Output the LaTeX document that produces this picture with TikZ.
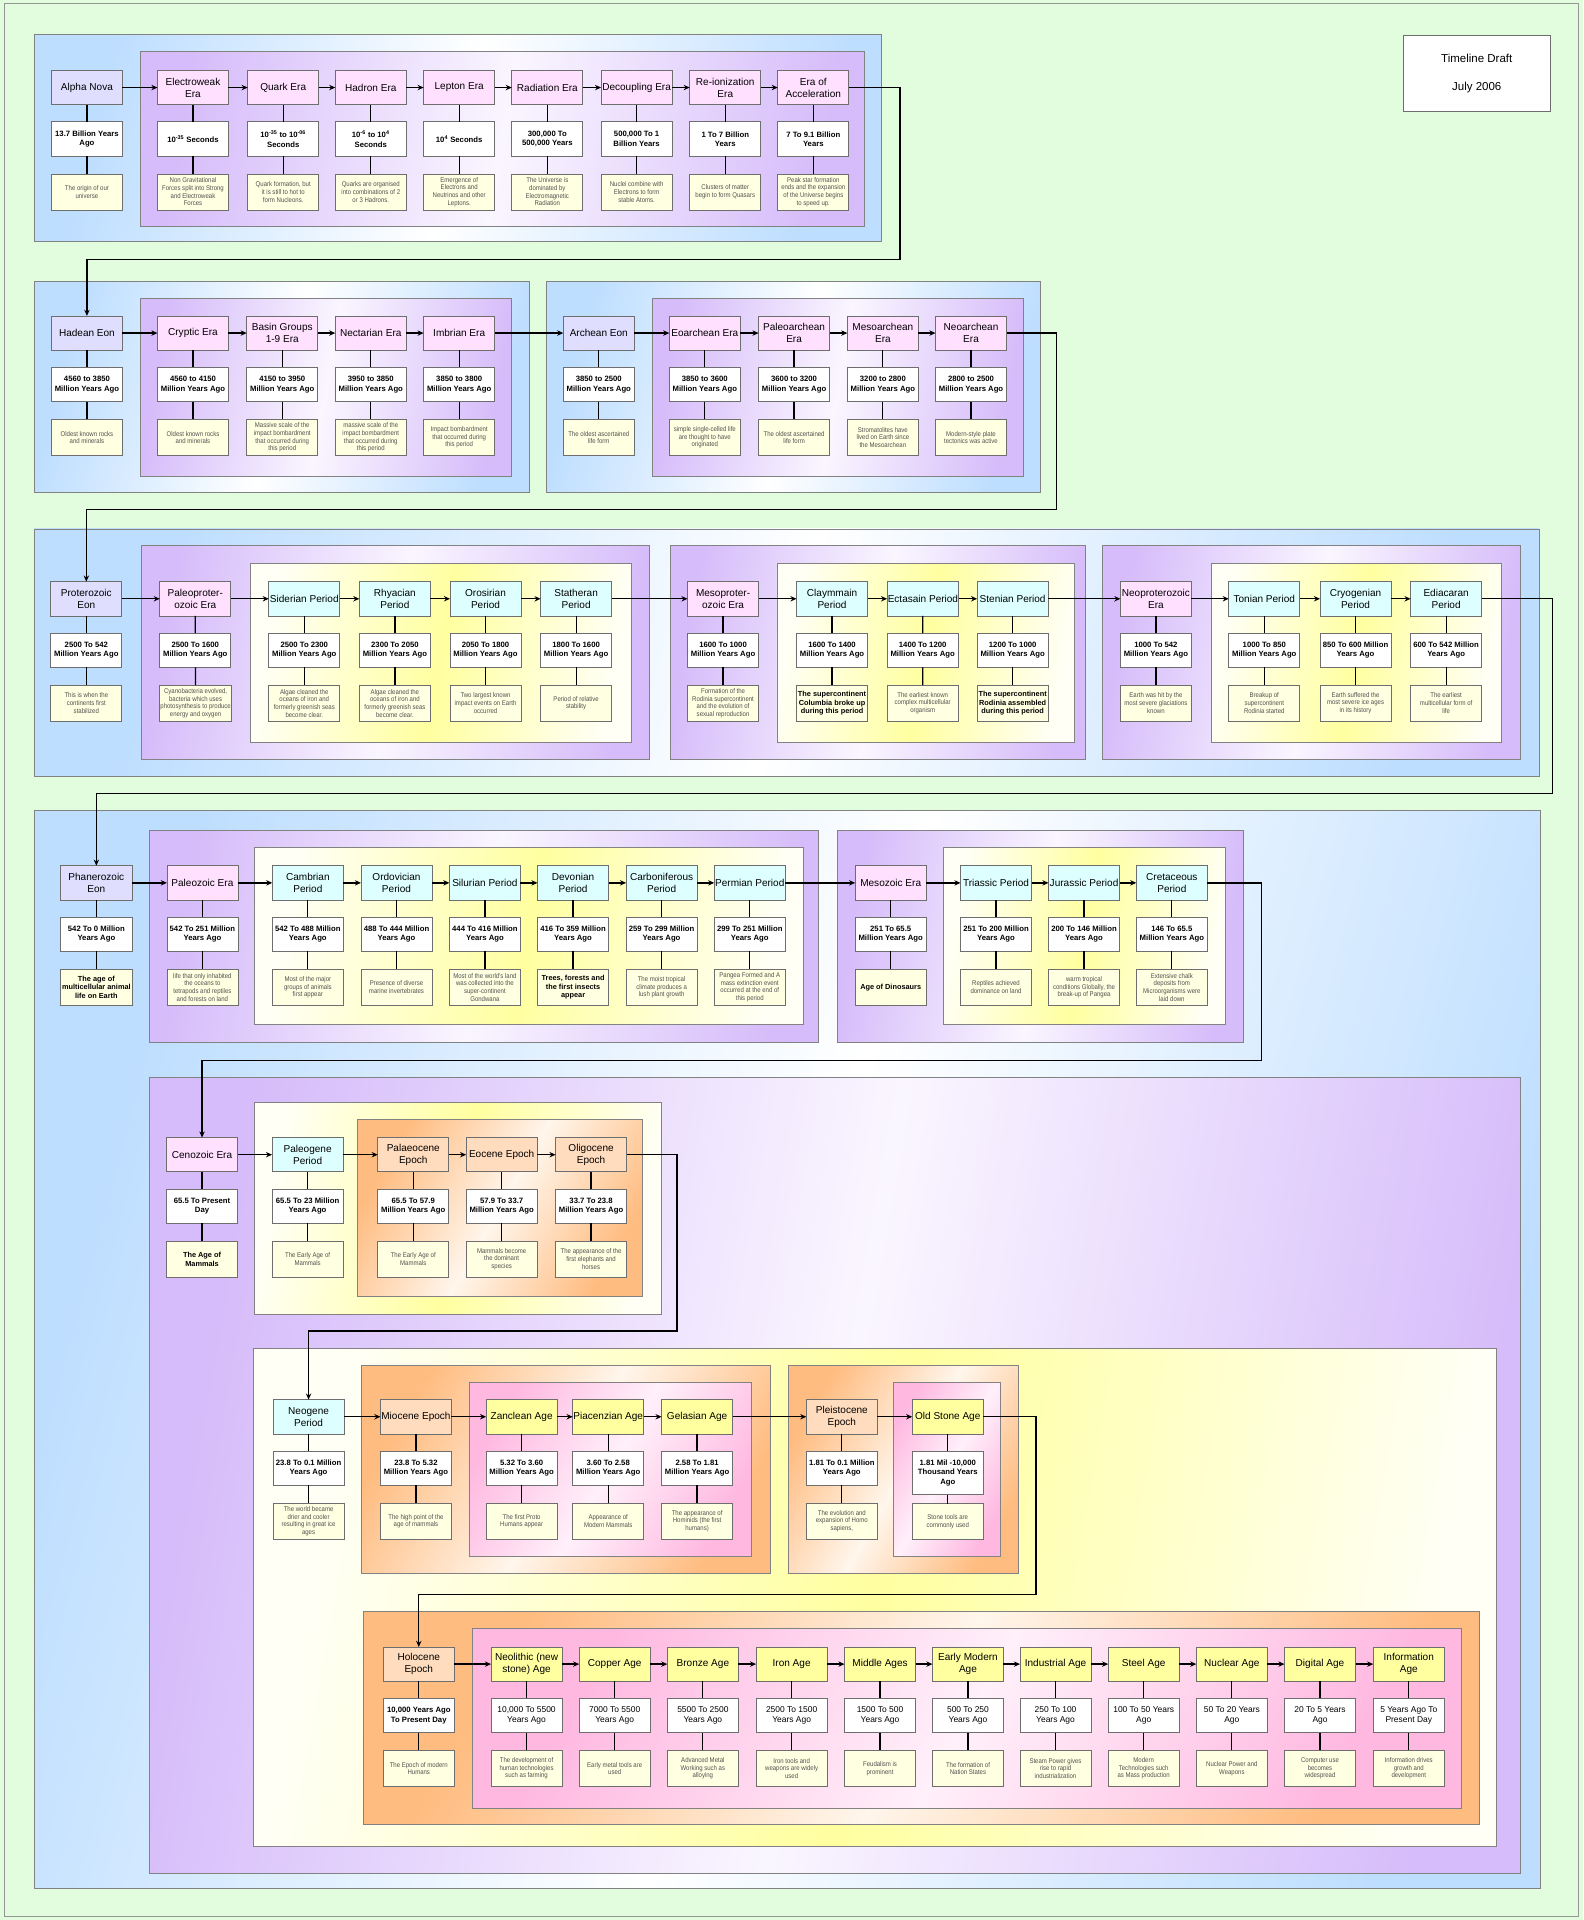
\documentclass[tikz,border=0pt]{standalone}
\usepackage{fontspec}
\setmainfont{Liberation Sans}
\newfontfamily\narrowfont{Liberation Sans}[FakeStretch=0.88]
\usetikzlibrary{arrows.meta}
\definecolor{bggreen}{RGB}{226,252,222}
\definecolor{pageB}{RGB}{150,150,150}
\definecolor{frameB}{RGB}{130,130,130}
\definecolor{nodeB}{RGB}{110,110,110}
\definecolor{blueC}{RGB}{190,222,255}
\definecolor{purpC}{RGB}{214,188,250}
\definecolor{purpM}{RGB}{250,246,255}
\definecolor{yelC}{RGB}{255,255,160}
\definecolor{yelE}{RGB}{255,255,246}
\definecolor{oraC}{RGB}{255,188,128}
\definecolor{oraM}{RGB}{255,246,236}
\definecolor{pinkC}{RGB}{255,185,225}
\definecolor{pinkM}{RGB}{255,240,250}
\definecolor{eonC}{RGB}{224,222,255}
\definecolor{eraC}{RGB}{255,224,255}
\definecolor{perC}{RGB}{222,255,255}
\definecolor{epoC}{RGB}{255,220,190}
\definecolor{ageC}{RGB}{255,255,160}
\definecolor{descC}{RGB}{255,255,225}
\definecolor{descT}{RGB}{80,80,80}
\newcommand\hdrfont{\fontsize{8.2}{9.6}\selectfont}
\newcommand\datefont{\fontsize{6.3}{7.6}\selectfont\bfseries}
\newcommand\dateregfont{\fontsize{6.9}{8.2}\selectfont}
\newcommand\descfont{\narrowfont\fontsize{5.6}{6.3}\selectfont}
\newcommand\dboldfont{\fontsize{6}{7.2}\selectfont\bfseries}
\tikzset{
  hdr/.style={draw=nodeB, line width=0.6pt, minimum width=58pt, minimum height=28pt,
    inner sep=0.5pt, outer sep=0pt, align=center, anchor=north west, font=\hdrfont, text=black},
  kEon/.style={fill=eonC}, kEra/.style={fill=eraC}, kPer/.style={fill=perC},
  kEpo/.style={fill=epoC}, kAge/.style={fill=ageC},
  datebox/.style={hdr, fill=white, font=\datefont},
  descbox/.style={hdr, minimum height=29.5pt, fill=descC, font=\descfont, text=descT},
  dbold/.style={font=\dboldfont, text=black},
  vlink/.style={line width=1pt, black},
  harrow/.style={line width=1.1pt, black, -{Stealth[length=5pt,width=4.4pt]}},
  fbase/.style={draw=frameB, line width=0.6pt},
  fblue/.style={fbase, left color=blueC, right color=blueC, middle color=white, shading angle=75},
  fpurple/.style={fbase, left color=purpC, right color=purpC, middle color=purpM, shading angle=80},
  fyellow/.style={fbase, left color=yelE, right color=yelE, middle color=yelC, shading angle=80},
  forange/.style={fbase, left color=oraC, right color=oraC, middle color=oraM, shading angle=60},
  fpink/.style={fbase, left color=pinkC, right color=pinkC, middle color=pinkM, shading angle=60},
}
% column: [desc opts]{name}{x}{y}{kind}{header}{date}{desc}
\newcommand\tcol[8][]{%
  \node[hdr,#5] (#2-h) at (#3,#4) {#6};
  \node[datebox] (#2-d) at (#3,#4+42) {#7};
  \node[descbox,#1] (#2-s) at (#3,#4+84.5) {#8};
  \draw[vlink] (#2-h) -- (#2-d) (#2-d) -- (#2-s);
}
\newcommand\frm[5]{\path[#1] (#2,#3) rectangle (#4,#5);}
\begin{document}
\begin{tikzpicture}[x=1pt,y=-1pt]
\useasboundingbox (0,0) rectangle (1293,1568);
\fill[bggreen] (0,0) rectangle (1293,1568);
\draw[pageB, line width=0.8pt] (4,3) rectangle (1289,1565);

% ---------- frames ----------
\frm{fblue}{28}{28}{720}{197}
\frm{fpurple}{114.5}{42}{705.5}{184.5}
\frm{fblue}{28}{230}{432}{402}
\frm{fpurple}{115}{243.5}{418}{389}
\frm{fblue}{446}{230}{850}{402}
\frm{fpurple}{533}{243.5}{836}{389}
\frm{fblue}{28}{432}{1257}{634}
\frm{fpurple}{115.5}{445.5}{530.5}{620}
\frm{fyellow}{204.5}{460}{516}{606}
\frm{fpurple}{547.5}{445.5}{886}{620}
\frm{fyellow}{634.5}{460}{877}{606}
\frm{fpurple}{900}{445.5}{1242}{620}
\frm{fyellow}{989.5}{460}{1226}{606}
\frm{fblue}{28}{662}{1258}{1542}
\frm{fpurple}{122}{678}{668.5}{851}
\frm{fyellow}{208}{692}{656}{836.5}
\frm{fpurple}{684}{678}{1015.5}{851}
\frm{fyellow}{770.5}{692}{1001}{836.5}
\frm{fpurple}{122}{880}{1242}{1530}
\frm{fyellow}{208}{900}{540}{1073}
\frm{forange}{292}{914}{525}{1058.5}
\frm{fyellow}{207}{1101}{1222}{1508}
\frm{forange}{295}{1115}{629}{1285}
\frm{fpink}{383}{1129}{614}{1271}
\frm{forange}{644}{1115}{832}{1285}
\frm{fpink}{729.5}{1129}{817}{1271}
\frm{forange}{297}{1316}{1208}{1490}
\frm{fpink}{385.5}{1330}{1193.5}{1476.5}

% ---------- title ----------
\node[draw=nodeB, line width=0.6pt, fill=white, minimum width=120pt, minimum height=62pt,
  align=center, font=\fontsize{9.4}{10.5}\selectfont] (title) at (1206,60) {Timeline Draft\\[13pt]July 2006};

% ---------- row 1 ----------
\tcol{alpha}{42}{57.5}{kEon}{Alpha Nova}{13.7 Billion Years\\Ago}{The origin of our\\universe}
\tcol{ew}{128.6}{57.5}{kEra}{Electroweak\\Era}{10\textsuperscript{-35} Seconds}{Non Gravitational\\Forces split into Strong\\and Electroweak\\Forces}
\tcol{quark}{202.3}{57.5}{kEra}{Quark Era}{10\textsuperscript{-35} to 10\textsuperscript{-06}\\Seconds}{Quark formation, but\\it is still to hot to\\form Nucleons.}
\tcol{hadron}{273.8}{57.5}{kEra}{Hadron Era}{10\textsuperscript{-6} to 10\textsuperscript{4}\\Seconds}{Quarks are organised\\into combinations of 2\\or 3 Hadrons.}
\tcol{lepton}{346}{57.5}{kEra}{Lepton Era}{10\textsuperscript{4} Seconds}{Emergence of\\Electrons and\\Neutrinos and other\\Leptons.}
\tcol{radiation}{418}{57.5}{kEra}{Radiation Era}{300,000 To\\500,000 Years}{The Universe is\\dominated by\\Electromagnetic\\Radiation}
\tcol{decoupling}{490.9}{57.5}{kEra}{Decoupling Era}{500,000 To 1\\Billion Years}{Nuclei combine with\\Electrons to form\\stable Atoms.}
\tcol{reion}{563.3}{57.5}{kEra}{Re-ionization\\Era}{1 To 7 Billion\\Years}{Clusters of matter\\begin to form Quasars}
\tcol{accel}{635.2}{57.5}{kEra}{Era of\\Acceleration}{7 To 9.1 Billion\\Years}{Peak star formation\\ends and the expansion\\of the Universe begins\\to speed up.}

% ---------- row 2 ----------
\tcol{hadean}{42}{258}{kEon}{Hadean Eon}{4560 to 3850\\Million Years Ago}{Oldest known rocks\\and minerals}
\tcol{cryptic}{128.6}{258}{kEra}{Cryptic Era}{4560 to 4150\\Million Years Ago}{Oldest known rocks\\and minerals}
\tcol{basin}{201.5}{258}{kEra}{Basin Groups\\1-9 Era}{4150 to 3950\\Million Years Ago}{Massive scale of the\\impact bombardment\\that occurred during\\this period}
\tcol{nectarian}{273.8}{258}{kEra}{Nectarian Era}{3950 to 3850\\Million Years Ago}{massive scale of the\\impact bombardment\\that occurred during\\this period}
\tcol{imbrian}{346}{258}{kEra}{Imbrian Era}{3850 to 3800\\Million Years Ago}{Impact bombardment\\that occurred during\\this period}
\tcol{archean}{460}{258}{kEon}{Archean Eon}{3850 to 2500\\Million Years Ago}{The oldest ascertained\\life form}
\tcol{eoarchean}{546.6}{258}{kEra}{Eoarchean Era}{3850 to 3600\\Million Years Ago}{simple single-celled life\\are thought to have\\originated}
\tcol{paleoarchean}{619.5}{258}{kEra}{Paleoarchean\\Era}{3600 to 3200\\Million Years Ago}{The oldest ascertained\\life form}
\tcol{mesoarchean}{692}{258}{kEra}{Mesoarchean\\Era}{3200 to 2800\\Million Years Ago}{Stromatolites have\\lived on Earth since\\the Mesoarchean}
\tcol{neoarchean}{764}{258}{kEra}{Neoarchean\\Era}{2800 to 2500\\Million Years Ago}{Modern-style plate\\tectonics was active}

% ---------- row 3 ----------
\tcol{proterozoic}{41.5}{475}{kEon}{Proterozoic\\Eon}{2500 To 542\\Million Years Ago}{This is when the\\continents first\\stabilized}
\tcol{paleoproter}{130.5}{475}{kEra}{Paleoproter-\\ozoic Era}{2500 To 1600\\Million Years Ago}{Cyanobacteria evolved,\\bacteria which uses\\photosynthesis to produce\\energy and oxygen}
\tcol{siderian}{219.5}{475}{kPer}{Siderian Period}{2500 To 2300\\Million Years Ago}{Algae cleaned the\\oceans of iron and\\formerly greenish seas\\become clear.}
\tcol{rhyacian}{293.5}{475}{kPer}{Rhyacian\\Period}{2300 To 2050\\Million Years Ago}{Algae cleaned the\\oceans of iron and\\formerly greenish seas\\become clear.}
\tcol{orosirian}{367.5}{475}{kPer}{Orosirian\\Period}{2050 To 1800\\Million Years Ago}{Two largest known\\impact events on Earth\\occurred}
\tcol{statheran}{441.5}{475}{kPer}{Statheran\\Period}{1800 To 1600\\Million Years Ago}{Period of relative\\stability}
\tcol{mesoproter}{561.5}{475}{kEra}{Mesoproter-\\ozoic Era}{1600 To 1000\\Million Years Ago}{Formation of the\\Rodinia supercontinent\\and the evolution of\\sexual reproduction}
\tcol[dbold]{claymmain}{650.5}{475}{kPer}{Claymmain\\Period}{1600 To 1400\\Million Years Ago}{The supercontinent\\Columbia broke up\\during this period}
\tcol{ectasain}{724.5}{475}{kPer}{Ectasain Period}{1400 To 1200\\Million Years Ago}{The earliest known\\complex multicellular\\organism}
\tcol[dbold]{stenian}{798}{475}{kPer}{Stenian Period}{1200 To 1000\\Million Years Ago}{The supercontinent\\Rodinia assembled\\during this period}
\tcol{neoproterozoic}{915}{475}{kEra}{Neoproterozoic\\Era}{1000 To 542\\Million Years Ago}{Earth was hit by the\\most severe glaciations\\known}
\tcol{tonian}{1003.5}{475}{kPer}{Tonian Period}{1000 To 850\\Million Years Ago}{Breakup of\\supercontinent\\Rodinia started}
\tcol{cryogenian}{1078}{475}{kPer}{Cryogenian\\Period}{850 To 600 Million\\Years Ago}{Earth suffered the\\most severe ice ages\\in its history}
\tcol{ediacaran}{1152}{475}{kPer}{Ediacaran\\Period}{600 To 542 Million\\Years Ago}{The earliest\\multicellular form of\\life}

% ---------- row 4 ----------
\tcol[dbold]{phanerozoic}{49.7}{707}{kEon}{Phanerozoic\\Eon}{542 To 0 Million\\Years Ago}{The age of\\multicellular animal\\life on Earth}
\tcol{paleozoic}{136.3}{707}{kEra}{Paleozoic Era}{542 To 251 Million\\Years Ago}{life that only inhabited\\the oceans to\\tetrapods and reptiles\\and forests on land}
\tcol{cambrian}{222.4}{707}{kPer}{Cambrian\\Period}{542 To 488 Million\\Years Ago}{Most of the major\\groups of animals\\first appear}
\tcol{ordovician}{294.8}{707}{kPer}{Ordovician\\Period}{488 To 444 Million\\Years Ago}{Presence of diverse\\marine invertebrates}
\tcol{silurian}{367}{707}{kPer}{Silurian Period}{444 To 416 Million\\Years Ago}{Most of the world's land\\was collected into the\\super-continent\\Gondwana}
\tcol[dbold]{devonian}{439}{707}{kPer}{Devonian\\Period}{416 To 359 Million\\Years Ago}{Trees, forests and\\the first insects\\appear}
\tcol{carboniferous}{511.3}{707}{kPer}{Carboniferous\\Period}{259 To 299 Million\\Years Ago}{The moist tropical\\climate produces a\\lush plant growth}
\tcol{permian}{583.3}{707}{kPer}{Permian Period}{299 To 251 Million\\Years Ago}{Pangea Formed and A\\mass extinction event\\occurred at the end of\\this period}
\tcol[dbold]{mesozoic}{698.4}{707}{kEra}{Mesozoic Era}{251 To 65.5\\Million Years Ago}{Age of Dinosaurs}
\tcol{triassic}{784.4}{707}{kPer}{Triassic Period}{251 To 200 Million\\Years Ago}{Reptiles achieved\\dominance on land}
\tcol{jurassic}{856.3}{707}{kPer}{Jurassic Period}{200 To 146 Million\\Years Ago}{warm tropical\\conditions Globally, the\\break-up of Pangea}
\tcol{cretaceous}{928}{707}{kPer}{Cretaceous\\Period}{146 To 65.5\\Million Years Ago}{Extensive chalk\\deposits from\\Microorganisms were\\laid down}

% ---------- Cenozoic ----------
\tcol[dbold]{cenozoic}{136}{929}{kEra}{Cenozoic Era}{65.5 To Present\\Day}{The Age of\\Mammals}
\tcol{paleogene}{222.2}{929}{kPer}{Paleogene\\Period}{65.5 To 23 Million\\Years Ago}{The Early Age of\\Mammals}
\tcol{palaeocene}{308.5}{929}{kEpo}{Palaeocene\\Epoch}{65.5 To 57.9\\Million Years Ago}{The Early Age of\\Mammals}
\tcol{eocene}{380.7}{929}{kEpo}{Eocene Epoch}{57.9 To 33.7\\Million Years Ago}{Mammals become\\the dominant\\species}
\tcol{oligocene}{453.7}{929}{kEpo}{Oligocene\\Epoch}{33.7 To 23.8\\Million Years Ago}{The appearance of the\\first elephants and\\horses}

% ---------- Neogene ----------
\tcol{neogene}{223}{1143}{kPer}{Neogene\\Period}{23.8 To 0.1 Million\\Years Ago}{The world became\\drier and cooler\\resulting in great ice\\ages}
\tcol{miocene}{310.7}{1143}{kEpo}{Miocene Epoch}{23.8 To 5.32\\Million Years Ago}{The high point of the\\age of mammals}
\tcol{zanclean}{397}{1143}{kAge}{Zanclean Age}{5.32 To 3.60\\Million Years Ago}{The first Proto\\Humans appear}
\tcol{piacenzian}{467.7}{1143}{kAge}{Piacenzian Age}{3.60 To 2.58\\Million Years Ago}{Appearance of\\Modern Mammals}
\tcol{gelasian}{540.3}{1143}{kAge}{Gelasian Age}{2.58 To 1.81\\Million Years Ago}{The appearance of\\Hominids (the first\\humans)}
\tcol{pleistocene}{658.5}{1143}{kEpo}{Pleistocene\\Epoch}{1.81 To 0.1 Million\\Years Ago}{The evolution and\\expansion of Homo\\sapiens,}
\node[hdr,kAge] (oldstone-h) at (745,1143) {Old Stone Age};
\node[datebox, minimum height=35.5pt] (oldstone-d) at (745,1185) {1.81 Mil -10,000\\Thousand Years\\Ago};
\node[descbox] (oldstone-s) at (745,1228) {Stone tools are\\commonly used};
\draw[vlink] (oldstone-h) -- (oldstone-d) (oldstone-d) -- (oldstone-s);

% ---------- Holocene ----------
\tcol{holocene}{313}{1345}{kEpo}{Holocene\\Epoch}{10,000 Years Ago\\To Present Day}{The Epoch of modern\\Humans}
\begin{scope}[datebox/.append style={font=\dateregfont}]
\tcol{neolithic}{401}{1345}{kAge}{Neolithic (new\\stone) Age}{10,000 To 5500\\Years Ago}{The development of\\human technologies\\such as farming}
\tcol{copper}{473}{1345}{kAge}{Copper Age}{7000 To 5500\\Years Ago}{Early metal tools are\\used}
\tcol{bronze}{545}{1345}{kAge}{Bronze Age}{5500 To 2500\\Years Ago}{Advanced Metal\\Working such as\\alloying}
\tcol{iron}{617.5}{1345}{kAge}{Iron Age}{2500 To 1500\\Years Ago}{Iron tools and\\weapons are widely\\used}
\tcol{middle}{689.7}{1345}{kAge}{Middle Ages}{1500 To 500\\Years Ago}{Feudalism is\\prominent}
\tcol{earlymodern}{761.5}{1345}{kAge}{Early Modern\\Age}{500 To 250\\Years Ago}{The formation of\\Nation States}
\tcol{industrial}{833}{1345}{kAge}{Industrial Age}{250 To 100\\Years Ago}{Steam Power gives\\rise to rapid\\industrialization}
\tcol{steel}{905}{1345}{kAge}{Steel Age}{100 To 50 Years\\Ago}{Modern\\Technologies such\\as Mass production}
\tcol{nuclear}{977}{1345}{kAge}{Nuclear Age}{50 To 20 Years\\Ago}{Nuclear Power and\\Weapons}
\tcol{digital}{1049}{1345}{kAge}{Digital Age}{20 To 5 Years\\Ago}{Computer use\\becomes\\widespread}
\tcol{information}{1121.5}{1345}{kAge}{Information\\Age}{5 Years Ago To\\Present Day}{Information drives\\growth and\\development}
\end{scope}

% ---------- horizontal arrows ----------
\foreach \a/\b in {alpha/ew, ew/quark, quark/hadron, hadron/lepton, lepton/radiation,
  radiation/decoupling, decoupling/reion, reion/accel,
  hadean/cryptic, cryptic/basin, basin/nectarian, nectarian/imbrian, imbrian/archean,
  archean/eoarchean, eoarchean/paleoarchean, paleoarchean/mesoarchean, mesoarchean/neoarchean,
  proterozoic/paleoproter, paleoproter/siderian, siderian/rhyacian, rhyacian/orosirian,
  orosirian/statheran, statheran/mesoproter, mesoproter/claymmain, claymmain/ectasain,
  ectasain/stenian, stenian/neoproterozoic, neoproterozoic/tonian, tonian/cryogenian,
  cryogenian/ediacaran,
  phanerozoic/paleozoic, paleozoic/cambrian, cambrian/ordovician, ordovician/silurian,
  silurian/devonian, devonian/carboniferous, carboniferous/permian, permian/mesozoic,
  mesozoic/triassic, triassic/jurassic, jurassic/cretaceous,
  cenozoic/paleogene, paleogene/palaeocene, palaeocene/eocene, eocene/oligocene,
  neogene/miocene, miocene/zanclean, zanclean/piacenzian, piacenzian/gelasian,
  gelasian/pleistocene, pleistocene/oldstone,
  holocene/neolithic, neolithic/copper, copper/bronze, bronze/iron, iron/middle,
  middle/earlymodern, earlymodern/industrial, industrial/steel, steel/nuclear,
  nuclear/digital, digital/information}
  \draw[harrow] (\a-h.east) -- (\b-h.west);

% ---------- row-to-row connectors ----------
\coordinate (b1) at (735,212);
\coordinate (b2) at (863,416);
\coordinate (b3) at (1268,648);
\coordinate (b4) at (1030,866);
\coordinate (b5) at (553,1087);
\coordinate (b6) at (846,1302);
\draw[harrow] (accel-h.east) -| (b1) -| (hadean-h.north);
\draw[harrow] (neoarchean-h.east) -| (b2) -| (proterozoic-h.north);
\draw[harrow] (ediacaran-h.east) -| (b3) -| (phanerozoic-h.north);
\draw[harrow] (cretaceous-h.east) -| (b4) -| (cenozoic-h.north);
\draw[harrow] (oligocene-h.east) -| (b5) -| (neogene-h.north);
\draw[harrow] (oldstone-h.east) -| (b6) -| (holocene-h.north);
\end{tikzpicture}
\end{document}
